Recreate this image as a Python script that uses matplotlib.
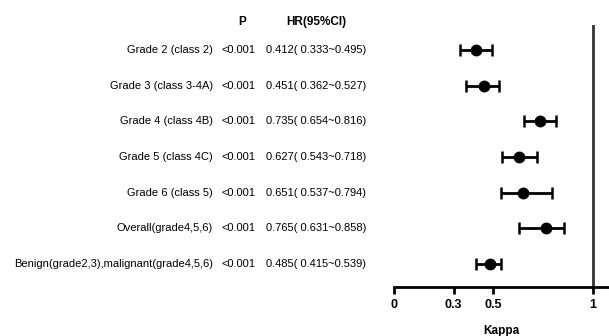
import matplotlib.pyplot as plt
from matplotlib.transforms import blended_transform_factory

labels = ["Grade 2 (class 2)", "Grade 3 (class 3-4A)", "Grade 4 (class 4B)",
          "Grade 5 (class 4C)", "Grade 6 (class 5)", "Overall(grade4,5,6)",
          "Benign(grade2,3),malignant(grade4,5,6)"]
pvals = ["<0.001"] * 7
est = [0.412, 0.451, 0.735, 0.627, 0.651, 0.765, 0.485]
low = [0.333, 0.362, 0.654, 0.543, 0.537, 0.631, 0.415]
high = [0.495, 0.527, 0.816, 0.718, 0.794, 0.858, 0.539]
xticks = [0, 0.3, 0.5, 1]
xticklabels = ["0", "0.3", "0.5", "1"]

plt.rcParams['font.family'] = ['Liberation Sans', 'DejaVu Sans']

W, H = 609, 336
fig = plt.figure(figsize=(W / 100, H / 100), dpi=100)
ax = fig.add_axes([394 / W, 1 - 287 / H, (W - 394) / W, (287 - 25) / H])

rows = list(range(len(labels)))
xerr = [[e - l for e, l in zip(est, low)], [h - e for e, h in zip(est, high)]]
ax.errorbar(est, rows, xerr=xerr, fmt='o', color='black', ms=7.5,
            elinewidth=2, capsize=4, capthick=1.8)
ax.axvline(1, color='#333333', lw=2)

ax.set_xlim(0, 1.082)
ax.set_ylim(6.645, -0.70)
ax.set_yticks([])
for s in ['top', 'right', 'left']:
    ax.spines[s].set_visible(False)
ax.spines['bottom'].set_linewidth(2)
ax.set_xticks(xticks)
ax.set_xticklabels(xticklabels, fontweight='bold', fontsize=9)
ax.tick_params(axis='x', direction='out', length=5, width=2, pad=4)
ax.set_xlabel("Kappa", fontweight='bold', fontsize=8.5, labelpad=10)

tr = blended_transform_factory(fig.transFigure, ax.transData)
fs = 8.0
for i, lab in enumerate(labels):
    ax.text(213 / W, i, lab, transform=tr, ha='right', va='center', fontsize=fs)
    ax.text(221 / W, i, pvals[i], transform=tr, ha='left', va='center', fontsize=fs)
    ax.text(266 / W, i, "%.3f( %.3f~%.3f)" % (est[i], low[i], high[i]),
            transform=tr, ha='left', va='center', fontsize=fs)

fig.text(242 / W, 1 - 22 / H, "P", ha='center', va='center', fontsize=8.5, fontweight='bold')
fig.text(316 / W, 1 - 22 / H, "HR(95%CI)", ha='center', va='center', fontsize=8.5, fontweight='bold')

fig.savefig("out.png", dpi=100)
